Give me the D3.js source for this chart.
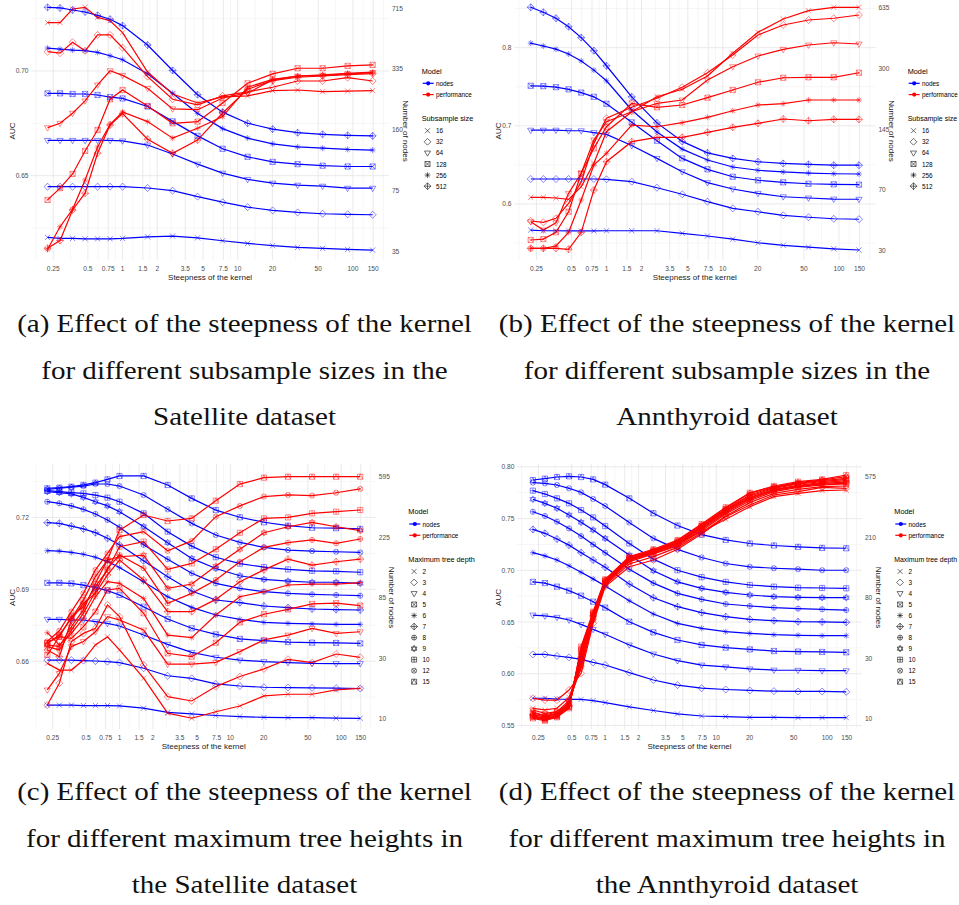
<!DOCTYPE html>
<html>
<head>
<meta charset="utf-8">
<script src="https://cdn.jsdelivr.net/npm/d3@7"></script>
<style>
  body { margin: 0; background: #fff; }
  svg { display: block; }
</style>
</head>
<body>
<svg id="fig" width="959" height="905"></svg>
<script>
// Kernel steepness values at which every configuration was evaluated
const steepness = [0.2231, 0.2865, 0.3679, 0.4724, 0.6065, 0.7788, 1, 1.6487, 2.7183, 4.4817,
  7.3891, 12.1825, 20.0855, 33.1155, 54.5982, 90.0171, 148.4132];
const xTickValues = [0.25, 0.5, 0.75, 1, 1.5, 2, 3.5, 5, 7.5, 10, 20, 50, 100, 150];
const xTickLabels = ["0.25", "0.5", "0.75", "1", "1.5", "2", "3.5", "5", "7.5", "10", "20", "50", "100", "150"];

const subsampleSizes = ["16", "32", "64", "128", "256", "512"];
const treeDepths = ["2", "3", "4", "5", "6", "7", "8", "9", "10", "12", "15"];

// Satellite, varying subsample size: AUC (performance) and tree size (nodes)
const satelliteSubsampleAuc = [
  [0.7231, 0.7231, 0.7296, 0.7304, 0.7256, 0.7240, 0.7183, 0.6995, 0.6890, 0.6847, 0.6876, 0.6881, 0.6906, 0.6909, 0.6901, 0.6904, 0.6906],
  [0.7092, 0.7085, 0.7137, 0.7096, 0.7172, 0.7172, 0.7111, 0.6973, 0.6865, 0.6838, 0.6881, 0.6900, 0.6922, 0.6952, 0.6952, 0.6968, 0.6952],
  [0.6729, 0.6750, 0.6798, 0.6857, 0.6933, 0.7001, 0.6979, 0.6917, 0.6819, 0.6815, 0.6871, 0.6895, 0.6957, 0.6975, 0.6979, 0.6986, 0.6992],
  [0.6384, 0.6440, 0.6508, 0.6618, 0.6718, 0.6865, 0.6909, 0.6833, 0.6750, 0.6758, 0.6847, 0.6941, 0.6986, 0.7013, 0.7013, 0.7024, 0.7029],
  [0.6148, 0.6256, 0.6339, 0.6479, 0.6637, 0.6745, 0.6804, 0.6758, 0.6679, 0.6726, 0.6782, 0.6922, 0.6960, 0.6976, 0.6981, 0.6989, 0.6994],
  [0.6153, 0.6190, 0.6336, 0.6416, 0.6607, 0.6742, 0.6796, 0.6674, 0.6607, 0.6670, 0.6799, 0.6913, 0.6954, 0.6970, 0.6976, 0.6982, 0.6987]
];
const satelliteSubsampleNodes = [
  [41.5, 41.0, 41.0, 40.8, 40.8, 40.8, 41.0, 41.8, 42.2, 41.3, 39.8, 38.5, 37.4, 36.6, 36.2, 35.7, 35.4],
  [78.5, 78.5, 78.5, 78.5, 78.5, 78.5, 78.5, 77.2, 74.7, 69.3, 64.6, 60.7, 58.3, 56.8, 55.9, 55.5, 55.2],
  [140, 140, 140, 140, 140, 140, 139, 132, 118, 104, 93, 86, 82, 80, 79, 77, 77],
  [249, 249, 247, 247, 244, 238, 234, 212, 177, 148, 126, 114, 107, 104, 102, 101, 101],
  [435, 429, 424, 421, 412, 395, 376, 316, 249, 195, 162, 144, 134, 129, 127, 125, 124],
  [724, 718, 700, 683, 655, 624, 576, 452, 329, 245, 198, 173, 161, 154, 151, 149, 148]
];

// Annthyroid, varying subsample size
const annthyroidSubsampleAuc = [
  [0.6085, 0.6085, 0.6076, 0.6059, 0.6221, 0.6520, 0.6925, 0.7180, 0.7372, 0.7467, 0.7637, 0.7928, 0.8196, 0.8367, 0.8473, 0.8516, 0.8516],
  [0.5782, 0.5765, 0.5816, 0.6008, 0.6285, 0.6776, 0.7096, 0.7237, 0.7352, 0.7493, 0.7679, 0.7906, 0.8162, 0.8290, 0.8354, 0.8376, 0.8418],
  [0.5773, 0.5667, 0.5760, 0.6136, 0.6392, 0.6818, 0.7052, 0.7180, 0.7288, 0.7330, 0.7586, 0.7756, 0.7893, 0.7979, 0.8034, 0.8063, 0.8047],
  [0.5539, 0.5551, 0.5637, 0.5901, 0.6392, 0.6712, 0.6988, 0.7288, 0.7237, 0.7266, 0.7360, 0.7458, 0.7557, 0.7615, 0.7621, 0.7621, 0.7679],
  [0.5432, 0.5432, 0.5462, 0.5637, 0.6051, 0.6498, 0.6648, 0.7010, 0.6988, 0.7040, 0.7109, 0.7193, 0.7266, 0.7283, 0.7330, 0.7330, 0.7330],
  [0.5432, 0.5432, 0.5432, 0.5420, 0.5637, 0.6178, 0.6541, 0.6797, 0.6853, 0.6853, 0.6917, 0.6981, 0.7032, 0.7087, 0.7065, 0.7083, 0.7083]
];
const annthyroidSubsampleNodes = [
  [40.0, 39.6, 39.6, 39.5, 39.5, 39.5, 39.6, 39.6, 39.6, 38.2, 36.8, 35.2, 33.5, 32.3, 31.5, 30.8, 30.3],
  [79.7, 79.7, 79.7, 79.7, 79.7, 79.7, 79.4, 77.2, 71.8, 65.8, 59.4, 54.1, 51.6, 49.1, 47.8, 46.8, 46.5],
  [143, 143, 143, 142, 142, 139, 136, 119, 102, 87, 76.3, 70.7, 66.7, 63.6, 62.5, 61.6, 61.4],
  [243, 242, 239, 233, 224, 213, 196, 157, 126, 102, 89.5, 81.9, 78.5, 76.6, 75.3, 74.8, 74.5],
  [408, 394, 379, 357, 328, 293, 258, 182, 140, 114, 100, 92, 88.5, 86.7, 85.6, 84.9, 84.6],
  [635, 597, 555, 500, 437, 372, 309, 213, 156, 125, 109, 102, 98, 96, 95, 94, 94]
];

// Satellite, varying maximum tree depth
const satelliteDepthAuc = [
  [0.6591, 0.6563, 0.6563, 0.6605, 0.6668, 0.6702, 0.6647, 0.6529, 0.6383, 0.6362, 0.6389, 0.6413, 0.6455, 0.6462, 0.6462, 0.6480, 0.6487],
  [0.6417, 0.6508, 0.6682, 0.6716, 0.6737, 0.6835, 0.6786, 0.6584, 0.6452, 0.6434, 0.6494, 0.6536, 0.6568, 0.6608, 0.6594, 0.6630, 0.6616],
  [0.6480, 0.6549, 0.6661, 0.6682, 0.6723, 0.6786, 0.6772, 0.6730, 0.6588, 0.6588, 0.6595, 0.6640, 0.6689, 0.6709, 0.6737, 0.6716, 0.6723],
  [0.6626, 0.6702, 0.6695, 0.6744, 0.6807, 0.6897, 0.6904, 0.6800, 0.6633, 0.6619, 0.6677, 0.6762, 0.6796, 0.6816, 0.6839, 0.6842, 0.6832],
  [0.6719, 0.6668, 0.6716, 0.6779, 0.6869, 0.6932, 0.6925, 0.6862, 0.6709, 0.6698, 0.6793, 0.6869, 0.6890, 0.6918, 0.6922, 0.6922, 0.6928],
  [0.6647, 0.6619, 0.6772, 0.6842, 0.6883, 0.6960, 0.7022, 0.6939, 0.6807, 0.6807, 0.6858, 0.6932, 0.6981, 0.7026, 0.7001, 0.7015, 0.7026],
  [0.6661, 0.6647, 0.6730, 0.6800, 0.6890, 0.6988, 0.7043, 0.6988, 0.6842, 0.6883, 0.6939, 0.7015, 0.7075, 0.7095, 0.7106, 0.7092, 0.7110],
  [0.6668, 0.6661, 0.6744, 0.6814, 0.6925, 0.7022, 0.7036, 0.7043, 0.6904, 0.6922, 0.6997, 0.7067, 0.7136, 0.7161, 0.7179, 0.7161, 0.7145],
  [0.6677, 0.6702, 0.6786, 0.6828, 0.6911, 0.6981, 0.7078, 0.7099, 0.6983, 0.7008, 0.7067, 0.7136, 0.7196, 0.7200, 0.7217, 0.7224, 0.7231],
  [0.6682, 0.6727, 0.6807, 0.6883, 0.6981, 0.7050, 0.7120, 0.7141, 0.7061, 0.7102, 0.7203, 0.7248, 0.7287, 0.7294, 0.7291, 0.7303, 0.7319],
  [0.6675, 0.6709, 0.6779, 0.6855, 0.6953, 0.7022, 0.7147, 0.7210, 0.7185, 0.7196, 0.7270, 0.7339, 0.7366, 0.7370, 0.7370, 0.7370, 0.7370]
];
const satelliteDepthNodes = [
  [12.8, 12.8, 12.8, 12.7, 12.7, 12.7, 12.6, 12.1, 11.2, 10.9, 10.6, 10.4, 10.25, 10.2, 10.2, 10.1, 10.07],
  [29.0, 29.0, 29.0, 28.7, 28.5, 28.2, 27.7, 25.0, 21.8, 20.8, 18.8, 18.1, 17.7, 17.6, 17.5, 17.4, 17.3],
  [58.6, 58.6, 57.9, 57.9, 56.3, 54.7, 52.2, 44.7, 38.1, 33.2, 30.5, 29.0, 28.2, 27.7, 27.3, 27.2, 27.2],
  [108, 108, 107, 104, 100, 95.2, 88.8, 72.8, 58.9, 50.2, 45.2, 41.8, 40.6, 39.6, 39.2, 39.0, 38.7],
  [181, 180, 176, 171, 163, 152, 138, 110, 86.4, 72.0, 63.1, 58.6, 55.6, 54.7, 54.1, 53.7, 53.7],
  [284, 281, 269, 257, 242, 221, 199, 154, 119, 94.7, 81.7, 78.0, 73.7, 71.6, 70.0, 69.2, 68.8],
  [398, 388, 372, 352, 327, 297, 264, 199, 158, 126, 107, 98.8, 93.7, 91.2, 89.7, 88.8, 87.8],
  [468, 460, 451, 427, 398, 372, 339, 267, 206, 160, 136, 121, 114, 111, 109, 109, 107],
  [475, 468, 460, 455, 443, 425, 398, 330, 246, 195, 163, 147, 139, 134, 131, 130, 128],
  [486, 494, 502, 512, 529, 529, 512, 443, 352, 281, 233, 207, 191, 183, 180, 178, 176],
  [494, 499, 507, 521, 541, 570, 602, 602, 521, 420, 348, 310, 286, 271, 262, 260, 257]
];

// Annthyroid, varying maximum tree depth
const annthyroidDepthAuc = [
  [0.5666, 0.5650, 0.5666, 0.5772, 0.6068, 0.6520, 0.6880, 0.7100, 0.7180, 0.7261, 0.7373, 0.7493, 0.7615, 0.7712, 0.7744, 0.7770, 0.7776],
  [0.5762, 0.5746, 0.5746, 0.5843, 0.6004, 0.6487, 0.6842, 0.7035, 0.7100, 0.7203, 0.7351, 0.7518, 0.7631, 0.7728, 0.7760, 0.7802, 0.7792],
  [0.5650, 0.5617, 0.5633, 0.5740, 0.6052, 0.6513, 0.6858, 0.7061, 0.7132, 0.7222, 0.7364, 0.7525, 0.7654, 0.7744, 0.7783, 0.7808, 0.7815],
  [0.5617, 0.5601, 0.5633, 0.5714, 0.6101, 0.6536, 0.6868, 0.7083, 0.7158, 0.7235, 0.7383, 0.7544, 0.7673, 0.7760, 0.7802, 0.7825, 0.7834],
  [0.5633, 0.5592, 0.5617, 0.5698, 0.6133, 0.6552, 0.6880, 0.7093, 0.7164, 0.7245, 0.7396, 0.7557, 0.7686, 0.7770, 0.7808, 0.7834, 0.7841],
  [0.5601, 0.5585, 0.5611, 0.5688, 0.6159, 0.6558, 0.6874, 0.7100, 0.7170, 0.7254, 0.7406, 0.7567, 0.7696, 0.7776, 0.7815, 0.7841, 0.7853],
  [0.5611, 0.5579, 0.5601, 0.5730, 0.6181, 0.6568, 0.6890, 0.7106, 0.7177, 0.7261, 0.7415, 0.7576, 0.7705, 0.7783, 0.7821, 0.7847, 0.7866],
  [0.5592, 0.5569, 0.5592, 0.5708, 0.6204, 0.6578, 0.6900, 0.7112, 0.7187, 0.7267, 0.7422, 0.7583, 0.7718, 0.7792, 0.7834, 0.7857, 0.7879],
  [0.5585, 0.5559, 0.5592, 0.5682, 0.6223, 0.6584, 0.6900, 0.7116, 0.7190, 0.7277, 0.7428, 0.7589, 0.7728, 0.7802, 0.7841, 0.7866, 0.7889],
  [0.5579, 0.5553, 0.5585, 0.5675, 0.6246, 0.6590, 0.6906, 0.7125, 0.7196, 0.7286, 0.7438, 0.7599, 0.7744, 0.7808, 0.7847, 0.7873, 0.7905],
  [0.5569, 0.5546, 0.5579, 0.5666, 0.6262, 0.6600, 0.6913, 0.7132, 0.7203, 0.7293, 0.7447, 0.7609, 0.7750, 0.7815, 0.7857, 0.7879, 0.7921]
];
const annthyroidDepthNodes = [
  [14.5, 14.5, 14.3, 14.2, 14.2, 13.9, 13.4, 12.4, 11.6, 10.9, 10.5, 10.4, 10.25, 10.25, 10.2, 10.2, 10.2],
  [31.9, 31.9, 31.1, 30.4, 29.4, 27.8, 26.5, 23.1, 20.2, 18.4, 17.4, 17.0, 16.7, 16.5, 16.4, 16.4, 16.3],
  [60.4, 59.5, 58.2, 55.7, 51.9, 47.9, 44.2, 37.2, 32.1, 28.7, 26.5, 25.6, 24.7, 24.2, 24.1, 23.9, 23.9],
  [103, 101, 95.4, 89.5, 82.6, 75.0, 68.1, 54.2, 45.6, 40.3, 37.2, 35.6, 34.6, 33.7, 33.4, 33.2, 33.0],
  [164, 156, 146, 133, 120, 108, 96.4, 76.2, 61.4, 52.8, 48.7, 46.1, 44.9, 43.9, 43.5, 43.2, 43.2],
  [239, 224, 204, 185, 164, 146, 130, 99.5, 80.0, 69.2, 62.8, 58.8, 56.3, 55.1, 54.2, 54.0, 53.7],
  [321, 299, 272, 243, 214, 187, 164, 126, 101, 85.8, 77.9, 72.2, 69.9, 68.1, 67.0, 66.3, 65.5],
  [395, 369, 340, 304, 269, 237, 206, 158, 123, 103, 92.9, 87.2, 83.5, 81.3, 80.5, 80.0, 80.0],
  [456, 431, 401, 369, 330, 292, 253, 190, 148, 124, 111, 103, 98.0, 95.4, 93.9, 93.4, 92.9],
  [521, 515, 501, 474, 443, 397, 353, 268, 206, 173, 152, 138, 131, 128, 126, 124, 124],
  [544, 557, 572, 579, 572, 550, 504, 401, 313, 255, 219, 201, 190, 184, 180, 177, 176]
];

// Axis ticks of each panel
const aucTicksA = [0.65, 0.70];
const aucTicksB = [0.6, 0.7, 0.8];
const aucTicksC = [0.66, 0.69, 0.72];
const aucTicksD = [0.55, 0.60, 0.65, 0.70, 0.75, 0.80];
const nodeTicksA = [35, 75, 160, 335, 715];
const nodeTicksB = [30, 70, 145, 300, 635];
const nodeTicksC = [10, 30, 85, 225, 595];
const nodeTicksD = [10, 30, 80, 210, 575];

const captionA = ["(a) Effect of the steepness of the kernel", "for different subsample sizes in the", "Satellite dataset"];
const captionB = ["(b) Effect of the steepness of the kernel", "for different subsample sizes in the", "Annthyroid dataset"];
const captionC = ["(c) Effect of the steepness of the kernel", "for different maximum tree heights in", "the Satellite dataset"];
const captionD = ["(d) Effect of the steepness of the kernel", "for different maximum tree heights in", "the Annthyroid dataset"];

const BLUE = "#0000ff", RED = "#ff0000";
const SANS = "'Liberation Sans', Arial, sans-serif";
const SERIF = "'Liberation Serif', 'DejaVu Serif', serif";

const subsampleShapes = ["cross", "diamond", "triangleDown", "squareCross", "asterisk", "diamondPlus"];
const depthShapes = ["cross", "diamond", "triangleDown", "squareCross", "asterisk", "diamondPlus",
  "circlePlus", "star", "squarePlus", "circleCross", "squareTriangle"];

// Outline marker shapes in the style of R's open plotting symbols
function shapePath(kind, s) {
  const circle = r => `M${r},0A${r},${r} 0 1,1 ${-r},0A${r},${r} 0 1,1 ${r},0Z`;
  const square = r => `M${-r},${-r}H${r}V${r}H${-r}Z`;
  const xMark = r => `M${-r},${-r}L${r},${r}M${-r},${r}L${r},${-r}`;
  const plus = r => `M${-r},0H${r}M0,${-r}V${r}`;
  const d = s * 1.35;
  switch (kind) {
    case "cross": return xMark(s);
    case "diamond": return `M0,${-d}L${d},0L0,${d}L${-d},0Z`;
    case "triangleDown": return `M${-s * 1.2},${-s * 0.75}L${s * 1.2},${-s * 0.75}L0,${s * 1.3}Z`;
    case "squareCross": return square(s) + xMark(s);
    case "asterisk": return plus(s * 1.15) + xMark(s * 0.85);
    case "diamondPlus": return `M0,${-d}L${d},0L0,${d}L${-d},0Z` + plus(d);
    case "circlePlus": return circle(s) + plus(s);
    case "star": return `M0,${-s * 1.3}L${s * 1.15},${s * 0.65}L${-s * 1.15},${s * 0.65}Z` +
                        `M0,${s * 1.3}L${s * 1.15},${-s * 0.65}L${-s * 1.15},${-s * 0.65}Z`;
    case "squarePlus": return square(s) + plus(s);
    case "circleCross": return circle(s) + xMark(s * 0.72);
    case "squareTriangle": return square(s) + `M${-s},${s}L0,${-s}L${s},${s}`;
  }
  return "";
}

const svg = d3.select("#fig");
svg.append("rect").attr("width", 959).attr("height", 905).attr("fill", "#fff");

// Midpoints between consecutive breaks, plus one half-step outside each end
function minorBreaks(ticks) {
  const out = [];
  for (let i = 0; i < ticks.length - 1; i++) out.push((ticks[i] + ticks[i + 1]) / 2);
  out.push(ticks[0] - (ticks[1] - ticks[0]) / 2);
  const n = ticks.length;
  out.push(ticks[n - 1] + (ticks[n - 1] - ticks[n - 2]) / 2);
  return out;
}

// Shrink a text node's font until it ends before the given right edge
function fitRight(sel, right) {
  const node = sel.node();
  let size = parseFloat(sel.attr("font-size"));
  while (node.getBBox().x + node.getBBox().width > right && size > 5) {
    size -= 0.1;
    sel.attr("font-size", size);
  }
  return sel;
}

const panels = [
  { auc: satelliteSubsampleAuc, nodes: satelliteSubsampleNodes, groups: subsampleSizes, shapes: subsampleShapes,
    legendTitle: "Subsample size", aucTicks: aucTicksA, aucFormat: ".2f", nodeTicks: nodeTicksA,
    xRange: [31.3, 388.9], yRange: [-4, 260], aucDomain: [0.6097, 0.7358], nodeRange: [251, 8.3],
    aucTitleX: 12.3, nodeTitleX: 405, legendX: 421.7, legendY: 71, itemStep: 11.1,
    caption: captionA, capX: 244.5, capY: 332 },
  { auc: annthyroidSubsampleAuc, nodes: annthyroidSubsampleNodes, groups: subsampleSizes, shapes: subsampleShapes,
    legendTitle: "Subsample size", aucTicks: aucTicksB, aucFormat: ".1f", nodeTicks: nodeTicksB,
    xRange: [514.3, 875.4], yRange: [-4, 260], aucDomain: [0.5283, 0.8661], nodeRange: [250.7, 7.3],
    aucTitleX: 498, nodeTitleX: 891.7, legendX: 907.7, legendY: 71, itemStep: 11.1,
    caption: captionB, capX: 727, capY: 332 },
  { auc: satelliteDepthAuc, nodes: satelliteDepthNodes, groups: treeDepths, shapes: depthShapes,
    legendTitle: "Maximum tree depth", aucTicks: aucTicksC, aucFormat: ".2f", nodeTicks: nodeTicksC,
    xRange: [31.65, 375.85], yRange: [463.5, 729.5], aucDomain: [0.6315, 0.7425], nodeRange: [718.7, 476.7],
    aucTitleX: 12.3, nodeTitleX: 391.7, legendX: 408.3, legendY: 511.7, itemStep: 11.03,
    caption: captionC, capX: 244.5, capY: 800 },
  { auc: annthyroidDepthAuc, nodes: annthyroidDepthNodes, groups: treeDepths, shapes: depthShapes,
    legendTitle: "Maximum tree depth", aucTicks: aucTicksD, aucFormat: ".2f", nodeTicks: nodeTicksD,
    xRange: [517.2, 861.9], yRange: [463.5, 729.5], aucDomain: [0.54611, 0.80324], nodeRange: [718.7, 476.7],
    aucTitleX: 498, nodeTitleX: 878.3, legendX: 894.3, legendY: 511.7, itemStep: 11.03,
    caption: captionD, capX: 727, capY: 800 }
];

function drawPanel(p) {
  const g = svg.append("g");
  const ext = d3.extent(steepness);
  const pad = Math.pow(ext[1] / ext[0], 0.05);
  const x = d3.scaleLog().domain([ext[0] / pad, ext[1] * pad]).range(p.xRange);
  const y = d3.scaleLinear().domain(p.aucDomain).range([p.yRange[1], p.yRange[0]]);
  const k = p.nodeTicks.length;
  const yNodes = d3.scaleLog().domain(p.nodeTicks)
    .range(d3.range(k).map(i => p.nodeRange[0] + (p.nodeRange[1] - p.nodeRange[0]) * i / (k - 1)));

  const [x0, x1] = p.xRange;
  const [y0, y1] = p.yRange;
  const grid = g.append("g");

  // minor grid
  const xMinor = minorBreaks(xTickValues.map(Math.log10)).map(v => Math.pow(10, v))
    .filter(v => v > x.domain()[0] && v < x.domain()[1]);
  const yMinor = minorBreaks(p.aucTicks).filter(v => v > p.aucDomain[0] && v < p.aucDomain[1]);
  grid.selectAll(".xm").data(xMinor).join("line")
    .attr("x1", d => x(d)).attr("x2", d => x(d)).attr("y1", Math.max(0, y0)).attr("y2", y1)
    .attr("stroke", "#f0f0f0").attr("stroke-width", 0.6);
  grid.selectAll(".ym").data(yMinor).join("line")
    .attr("x1", x0).attr("x2", x1).attr("y1", d => y(d)).attr("y2", d => y(d))
    .attr("stroke", "#f0f0f0").attr("stroke-width", 0.6);
  // major grid
  grid.selectAll(".xM").data(xTickValues).join("line")
    .attr("x1", d => x(d)).attr("x2", d => x(d)).attr("y1", Math.max(0, y0)).attr("y2", y1)
    .attr("stroke", "#e8e8e8").attr("stroke-width", 0.9);
  grid.selectAll(".yM").data(p.aucTicks).join("line")
    .attr("x1", x0).attr("x2", x1).attr("y1", d => y(d)).attr("y2", d => y(d))
    .attr("stroke", "#e8e8e8").attr("stroke-width", 0.9);

  // lines: nodes first, then performance
  const nodeLine = d3.line().x((d, i) => x(steepness[i])).y(d => yNodes(d));
  const aucLine = d3.line().x((d, i) => x(steepness[i])).y(d => y(d));
  g.append("g").selectAll("path").data(p.nodes).join("path")
    .attr("d", nodeLine).attr("fill", "none").attr("stroke", BLUE).attr("stroke-width", 1.2);
  g.append("g").selectAll("path").data(p.auc).join("path")
    .attr("d", aucLine).attr("fill", "none").attr("stroke", RED).attr("stroke-width", 1.2);

  // point markers
  const drawPoints = (series, ys, color) => {
    series.forEach((row, gi) => {
      g.append("g").selectAll("path").data(row).join("path")
        .attr("transform", (d, i) => `translate(${x(steepness[i])},${ys(d)})`)
        .attr("d", shapePath(p.shapes[gi], 2.6))
        .attr("fill", "none").attr("stroke", color).attr("stroke-width", 0.85).attr("stroke-opacity", 0.55);
    });
  };
  drawPoints(p.nodes, yNodes, BLUE);
  drawPoints(p.auc, y, RED);

  // axis labels
  const fmt = d3.format(p.aucFormat);
  g.append("g").selectAll("text").data(p.aucTicks).join("text")
    .attr("x", x0 - 2.8).attr("y", d => y(d)).attr("text-anchor", "end").attr("dominant-baseline", "central")
    .attr("font-family", SANS).attr("font-size", 6.6).attr("fill", "#4d4d4d").text(d => fmt(d));
  g.append("g").selectAll("text").data(p.nodeTicks).join("text")
    .attr("x", x1 + 3).attr("y", d => yNodes(d)).attr("text-anchor", "start").attr("dominant-baseline", "central")
    .attr("font-family", SANS).attr("font-size", 6.6).attr("fill", "#4d4d4d").text(d => d);
  g.append("g").selectAll("text").data(xTickValues).join("text")
    .attr("x", d => x(d)).attr("y", y1 + 8.3).attr("text-anchor", "middle").attr("dominant-baseline", "central")
    .attr("font-family", SANS).attr("font-size", 6.6).attr("fill", "#4d4d4d")
    .text((d, i) => xTickLabels[i]);

  const midY = (Math.max(0, y0) + y1) / 2 + 1;
  g.append("text").attr("x", (x0 + x1) / 2).attr("y", y1 + 17).attr("text-anchor", "middle")
    .attr("dominant-baseline", "central").attr("font-family", SANS).attr("font-size", 8).attr("fill", "#1a1a1a")
    .text("Steepness of the kernel");
  g.append("text").attr("transform", `translate(${p.aucTitleX},${midY}) rotate(-90)`)
    .attr("text-anchor", "middle").attr("dominant-baseline", "central")
    .attr("font-family", SANS).attr("font-size", 8).attr("fill", "#1a1a1a").text("AUC");
  g.append("text").attr("transform", `translate(${p.nodeTitleX},${midY}) rotate(90)`)
    .attr("text-anchor", "middle").attr("dominant-baseline", "central")
    .attr("font-family", SANS).attr("font-size", 8).attr("fill", "#1a1a1a").text("Number of nodes");

  // legend
  const lg = g.append("g");
  const lx = p.legendX, ly = p.legendY;
  lg.append("text").attr("x", lx).attr("y", ly).attr("dominant-baseline", "central")
    .attr("font-family", SANS).attr("font-size", 7.3).attr("fill", "#000").text("Model");
  [["nodes", BLUE], ["performance", RED]].forEach(([name, col], i) => {
    const yy = ly + 12.3 + i * 11.3;
    lg.append("line").attr("x1", lx + 1).attr("x2", lx + 12).attr("y1", yy).attr("y2", yy)
      .attr("stroke", col).attr("stroke-width", 1.2);
    lg.append("circle").attr("cx", lx + 6.5).attr("cy", yy).attr("r", 2.1).attr("fill", col);
    lg.append("text").attr("x", lx + 14.2).attr("y", yy).attr("dominant-baseline", "central")
      .attr("font-family", SANS).attr("font-size", 6.4).attr("fill", "#000").text(name);
  });
  const ty = ly + 47.3;
  fitRight(lg.append("text").attr("x", lx).attr("y", ty).attr("dominant-baseline", "central")
    .attr("font-family", SANS).attr("font-size", 7.3).attr("fill", "#000").text(p.legendTitle), 957.5);
  p.groups.forEach((name, i) => {
    const yy = ty + 12.4 + i * p.itemStep;
    lg.append("path").attr("transform", `translate(${lx + 5.8},${yy})`).attr("d", shapePath(p.shapes[i], 2.5))
      .attr("fill", "none").attr("stroke", "#000").attr("stroke-width", 0.75).attr("stroke-opacity", 0.75);
    lg.append("text").attr("x", lx + 14.2).attr("y", yy).attr("dominant-baseline", "central")
      .attr("font-family", SANS).attr("font-size", 6.4).attr("fill", "#000").text(name);
  });
}

panels.forEach(drawPanel);

// Sub-figure captions, stretched horizontally to the width of the typeset text
const probe = svg.append("text").attr("font-family", SERIF).attr("font-size", 25).text(captionA[0]);
const stretch = 455 / probe.node().getComputedTextLength();
probe.remove();
panels.forEach(p => {
  p.caption.forEach((line, i) => {
    svg.append("text")
      .attr("transform", `translate(${p.capX},${p.capY + i * 46.5}) scale(${stretch},1)`)
      .attr("text-anchor", "middle").attr("font-family", SERIF).attr("font-size", 25)
      .attr("fill", "#111").text(line);
  });
});
</script>
</body>
</html>
